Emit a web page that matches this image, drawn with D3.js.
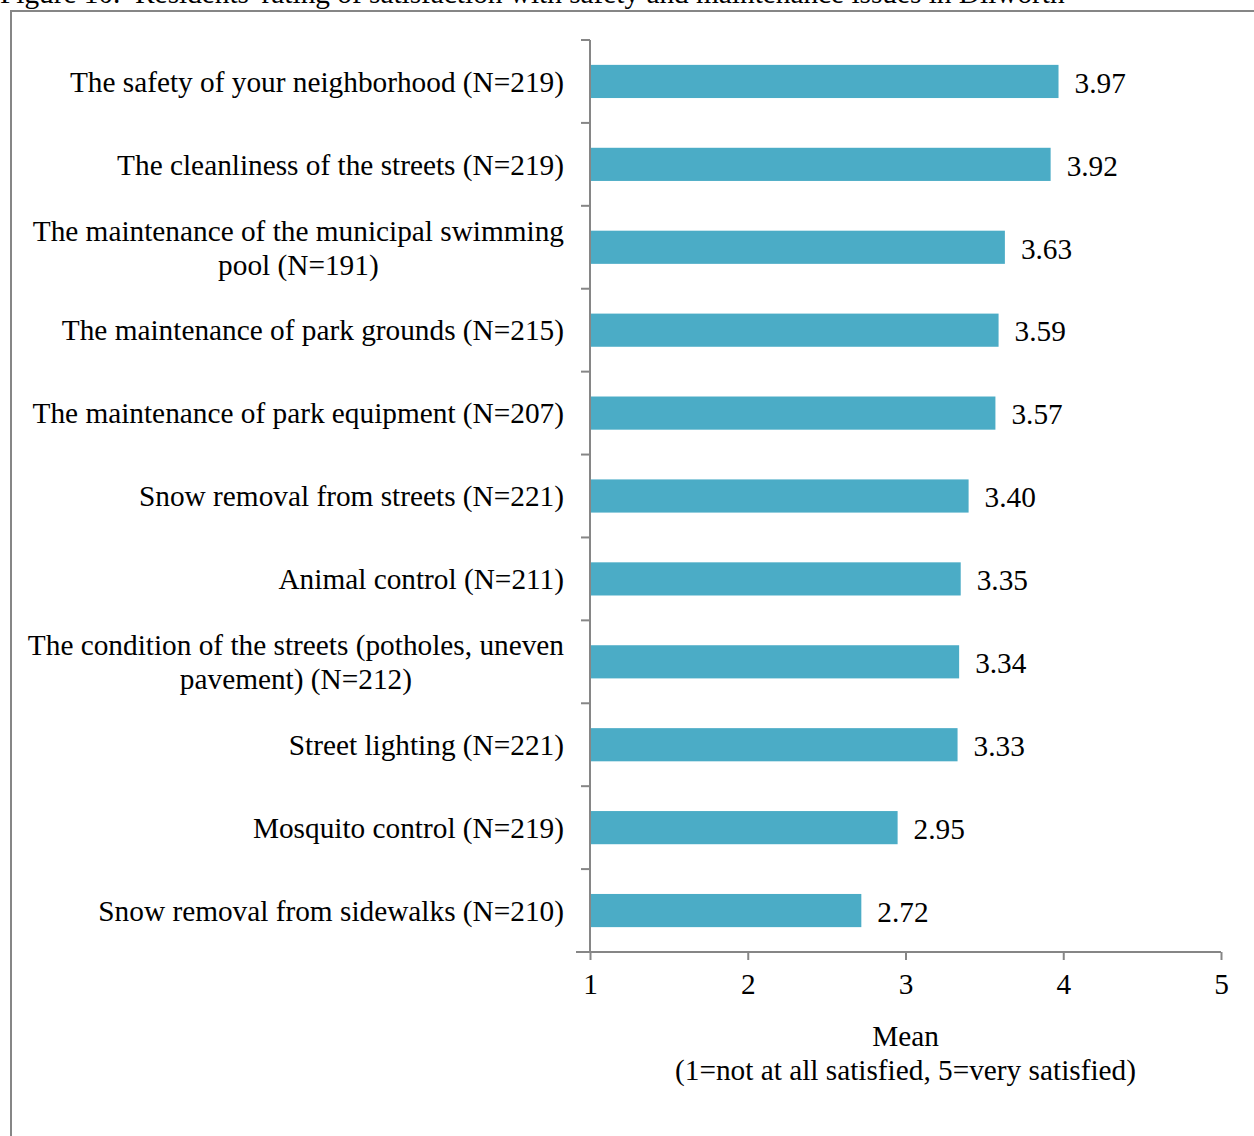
<!DOCTYPE html>
<html>
<head>
<meta charset="utf-8">
<script src="https://cdn.jsdelivr.net/npm/d3@7"></script>
<style>
  html, body { margin: 0; padding: 0; background: #fff; }
  svg { display: block; }
  text { font-family: "Liberation Serif", "Times New Roman", serif; fill: #000; }
</style>
</head>
<body>
<svg id="chart" width="1254" height="1136"></svg>
<script>
// Survey items (each entry is a list of label lines)
const categories = [
  ["The safety of your neighborhood (N=219)"],
  ["The cleanliness of the streets (N=219)"],
  ["The maintenance of the municipal swimming", "pool (N=191)"],
  ["The maintenance of park grounds (N=215)"],
  ["The maintenance of park equipment (N=207)"],
  ["Snow removal from streets (N=221)"],
  ["Animal control (N=211)"],
  ["The condition of the streets (potholes, uneven", "pavement) (N=212)"],
  ["Street lighting (N=221)"],
  ["Mosquito control (N=219)"],
  ["Snow removal from sidewalks (N=210)"]
];
const means = [3.97, 3.92, 3.63, 3.59, 3.57, 3.40, 3.35, 3.34, 3.33, 2.95, 2.72];
const xTicks = [1, 2, 3, 4, 5];
const titleText = "Figure 10.  Residents' rating of satisfaction with safety and maintenance issues in Dilworth";
const axisTitle = ["Mean", "(1=not at all satisfied, 5=very satisfied)"];

const svg = d3.select("#chart");
const axisColor = "#868686";
const barColor = "#4BACC6";
const fontSize = 29.3;

// Caption above the frame
svg.append("text")
  .attr("x", 0).attr("y", 3)
  .attr("font-size", fontSize)
  .attr("xml:space", "preserve")
  .style("white-space", "pre")
  .text(titleText);

// Chart frame
svg.append("rect")
  .attr("x", 11).attr("y", 11)
  .attr("width", 1260).attr("height", 1140)
  .attr("fill", "none")
  .attr("stroke", axisColor)
  .attr("stroke-width", 2);

const plot = { left: 590, right: 1221, top: 40, bottom: 952 };

const x = d3.scaleLinear().domain([1, 5]).range([plot.left, plot.right]);
const y = d3.scaleBand()
  .domain(d3.range(categories.length))
  .range([plot.top, plot.bottom])
  .paddingInner(0.6)
  .paddingOuter(0.3);

// Bars
svg.append("g").selectAll("rect")
  .data(means)
  .join("rect")
  .attr("x", x(1))
  .attr("y", (d, i) => y(i))
  .attr("width", d => x(d) - x(1))
  .attr("height", y.bandwidth())
  .attr("fill", barColor);

// Value labels
svg.append("g").selectAll("text")
  .data(means)
  .join("text")
  .attr("x", d => x(d) + 16)
  .attr("y", (d, i) => y(i) + y.bandwidth() / 2 + 1)
  .attr("dy", "0.35em")
  .attr("font-size", fontSize)
  .text(d => d.toFixed(2));

// Vertical category axis with ticks at band boundaries
const boundaries = d3.range(categories.length + 1).map(i => plot.top + i * (plot.bottom - plot.top) / categories.length);
const yAxisG = svg.append("g");
yAxisG.append("line")
  .attr("x1", plot.left).attr("x2", plot.left)
  .attr("y1", plot.top).attr("y2", plot.bottom)
  .attr("stroke", axisColor).attr("stroke-width", 2);
yAxisG.selectAll("line.tick")
  .data(boundaries)
  .join("line")
  .attr("class", "tick")
  .attr("x1", plot.left - 9).attr("x2", plot.left)
  .attr("y1", d => d).attr("y2", d => d)
  .attr("stroke", axisColor).attr("stroke-width", 2);

// Category labels (multi-line labels are centred on their longest line, right edge at 564)
const labelRight = 564;
const labelG = svg.append("g");
categories.forEach((lines, i) => {
  const cy = y(i) + y.bandwidth() / 2;
  const lh = 34;
  const t = labelG.append("text").attr("font-size", fontSize);
  const spans = lines.map((ln, k) => t.append("tspan")
    .attr("y", cy + (k - (lines.length - 1) / 2) * lh)
    .attr("dy", "0.35em")
    .text(ln));
  if (lines.length === 1) {
    t.attr("text-anchor", "end");
    spans[0].attr("x", labelRight);
  } else {
    const widths = spans.map(s => s.node().getComputedTextLength());
    const maxW = d3.max(widths);
    const cx = labelRight - maxW / 2;
    t.attr("text-anchor", "middle");
    spans.forEach(s => s.attr("x", cx));
  }
});

// Horizontal value axis
const xAxis = d3.axisBottom(x).tickValues(xTicks).tickSize(8).tickSizeOuter(0).tickPadding(13)
  .tickFormat(d3.format("d"));
const xAxisG = svg.append("g")
  .attr("transform", `translate(0,${plot.bottom})`)
  .call(xAxis);
xAxisG.select(".domain").remove();
xAxisG.append("line")
  .attr("x1", plot.left - 14).attr("x2", plot.right)
  .attr("y1", 0).attr("y2", 0)
  .attr("stroke", axisColor).attr("stroke-width", 2);
xAxisG.selectAll(".tick line").attr("stroke", axisColor).attr("stroke-width", 2);
xAxisG.selectAll(".tick text")
  .attr("font-size", fontSize)
  .attr("font-family", "Liberation Serif, Times New Roman, serif")
  .attr("fill", "#000");

// Axis title
const midX = (plot.left + plot.right) / 2;
svg.append("text")
  .attr("x", midX).attr("y", 1046)
  .attr("text-anchor", "middle")
  .attr("font-size", fontSize)
  .text(axisTitle[0]);
svg.append("text")
  .attr("x", midX).attr("y", 1080)
  .attr("text-anchor", "middle")
  .attr("font-size", fontSize)
  .text(axisTitle[1]);
</script>
</body>
</html>
